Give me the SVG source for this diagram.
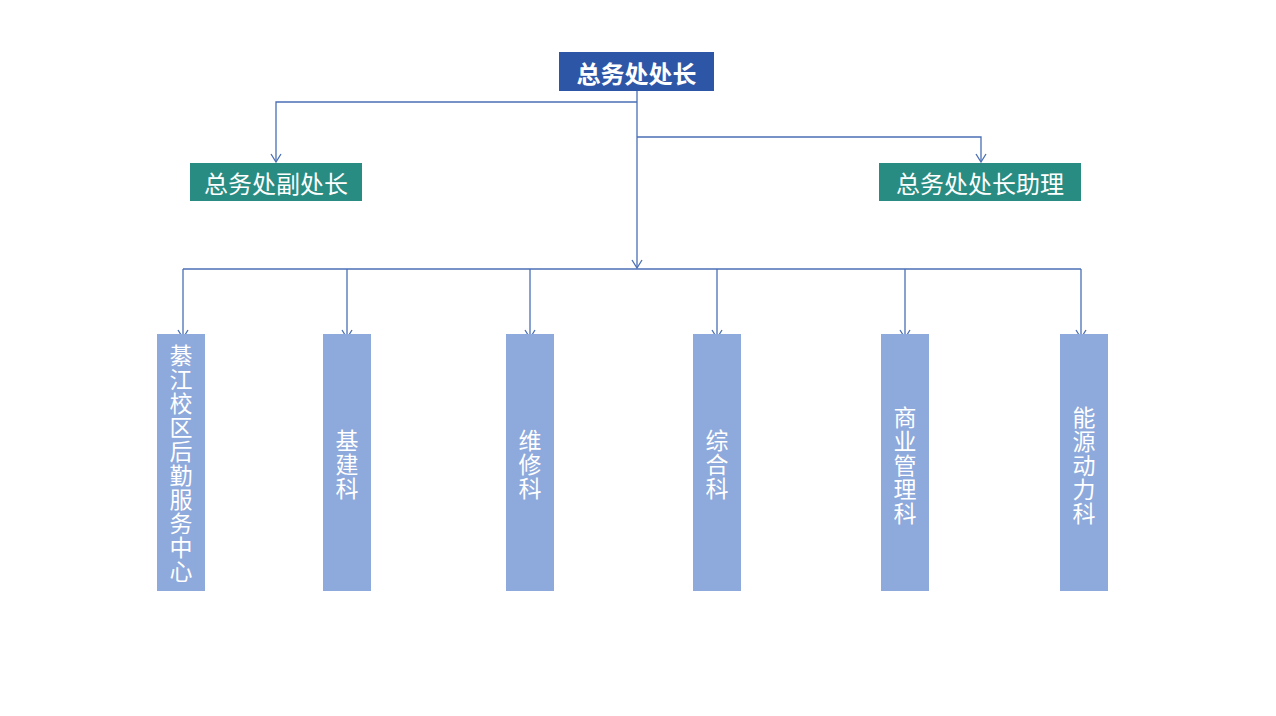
<svg xmlns="http://www.w3.org/2000/svg" width="1276" height="716" viewBox="0 0 1276 716">
<defs>
<marker id="arr" viewBox="0 0 12 12" refX="11" refY="6" markerWidth="12" markerHeight="12" markerUnits="userSpaceOnUse" orient="auto">
<path d="M3,1 L11,6 L3,11" fill="none" stroke="#4A6FB5" stroke-width="1.3"/>
</marker>
<style>
.ln{fill:none;stroke:#4A6FB5;stroke-width:1.3}
.t{font-family:"Microsoft YaHei","Noto Sans CJK SC",sans-serif;fill:#fff;text-anchor:middle;dominant-baseline:central}
.h{font-size:24px}
.v{font-size:23px}
.col{fill:#8EA9DB}
.teal{fill:#288C82}
</style>
</defs>
<rect width="1276" height="716" fill="#fff"/>
<g id="connectors">
<path class="ln" d="M637,91 V268" marker-end="url(#arr)"/>
<path class="ln" d="M637,102 H276 V162" marker-end="url(#arr)"/>
<path class="ln" d="M637,137 H981 V162" marker-end="url(#arr)"/>
<path class="ln" d="M183,269 H1081"/>
<path class="ln" d="M183,269 V338" marker-end="url(#arr)"/>
<path class="ln" d="M347,269 V338" marker-end="url(#arr)"/>
<path class="ln" d="M530,269 V338" marker-end="url(#arr)"/>
<path class="ln" d="M717,269 V338" marker-end="url(#arr)"/>
<path class="ln" d="M905,269 V338" marker-end="url(#arr)"/>
<path class="ln" d="M1081,269 V338" marker-end="url(#arr)"/>
</g>
<g id="director">
<rect x="559" y="52" width="155" height="39" fill="#2E56A6"/>
<text class="t h" x="636.5" y="72" font-weight="bold">总务处处长</text>
</g>
<g id="deputy">
<rect class="teal" x="190" y="163" width="172" height="38"/>
<text class="t h" x="276" y="182">总务处副处长</text>
</g>
<g id="assistant">
<rect class="teal" x="879" y="163" width="202" height="38"/>
<text class="t h" x="980" y="182">总务处处长助理</text>
</g>
<g id="qijiang">
<rect class="col" x="157" y="334" width="48" height="257"/>
<text class="t v"><tspan x="181" y="354">綦</tspan><tspan x="181" y="378">江</tspan><tspan x="181" y="402">校</tspan><tspan x="181" y="426">区</tspan><tspan x="181" y="450">后</tspan><tspan x="181" y="474">勤</tspan><tspan x="181" y="498">服</tspan><tspan x="181" y="522">务</tspan><tspan x="181" y="546">中</tspan><tspan x="181" y="570">心</tspan></text>
</g>
<g id="jijian">
<rect class="col" x="323" y="334" width="48" height="257"/>
<text class="t v"><tspan x="347" y="439">基</tspan><tspan x="347" y="463">建</tspan><tspan x="347" y="487">科</tspan></text>
</g>
<g id="weixiu">
<rect class="col" x="506" y="334" width="48" height="257"/>
<text class="t v"><tspan x="530" y="439">维</tspan><tspan x="530" y="463">修</tspan><tspan x="530" y="487">科</tspan></text>
</g>
<g id="zonghe">
<rect class="col" x="693" y="334" width="48" height="257"/>
<text class="t v"><tspan x="717" y="439">综</tspan><tspan x="717" y="463">合</tspan><tspan x="717" y="487">科</tspan></text>
</g>
<g id="shangye">
<rect class="col" x="881" y="334" width="48" height="257"/>
<text class="t v"><tspan x="905" y="416">商</tspan><tspan x="905" y="440">业</tspan><tspan x="905" y="464">管</tspan><tspan x="905" y="488">理</tspan><tspan x="905" y="512">科</tspan></text>
</g>
<g id="nengyuan">
<rect class="col" x="1060" y="334" width="48" height="257"/>
<text class="t v"><tspan x="1084" y="416">能</tspan><tspan x="1084" y="440">源</tspan><tspan x="1084" y="464">动</tspan><tspan x="1084" y="488">力</tspan><tspan x="1084" y="512">科</tspan></text>
</g>
</svg>
